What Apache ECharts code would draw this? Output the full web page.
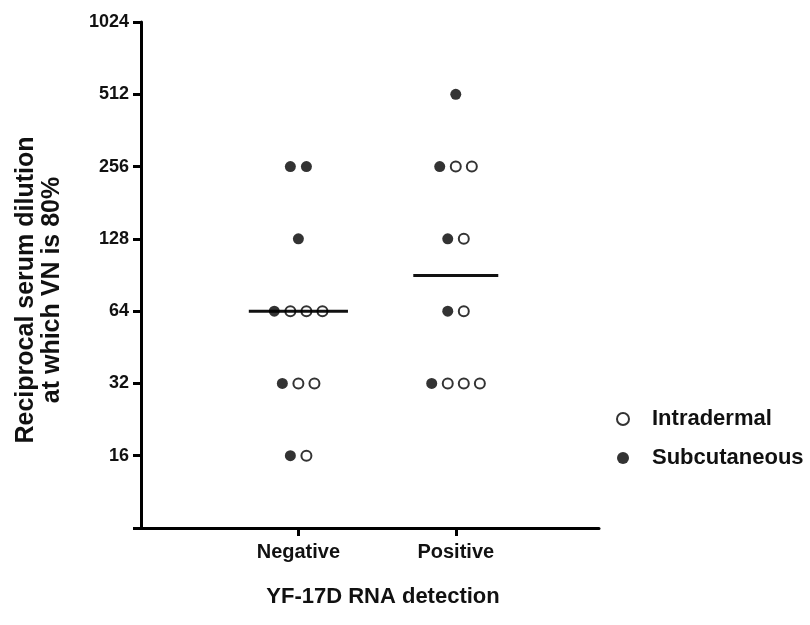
<!DOCTYPE html>
<html>
<head>
<meta charset="utf-8">
<script src="https://cdn.jsdelivr.net/npm/echarts@6/dist/echarts.min.js"></script>
<style>
  html, body { margin: 0; padding: 0; background: #fff; }
  #main { width: 810px; height: 625px; }
</style>
</head>
<body>
<div id="main"></div>
<script>
// titre (dilution) levels, top to bottom
const levels = [512, 256, 128, 64, 32, 16];
const groups = ['Negative', 'Positive'];
// number of animals at each level, per group and route
const negativeSub = [0, 2, 1, 1, 1, 1];
const negativeIntra = [0, 0, 0, 3, 2, 1];
const positiveSub = [1, 1, 1, 1, 1, 0];
const positiveIntra = [0, 2, 1, 1, 3, 0];
const medians = [64, 90];
const medianHalfWidth = [0.315, 0.27];
const yTicks = [8, 16, 32, 64, 128, 256, 512, 1024];

const counts = [[negativeSub, negativeIntra], [positiveSub, positiveIntra]];
const step = 0.102;

let subPoints = [];
let intraPoints = [];
counts.forEach(function (c, g) {
    let center = g + 1;
    levels.forEach(function (v, i) {
        let s = c[0][i], n = s + c[1][i];
        for (let j = 0; j < n; j++) {
            let x = center + (j - (n - 1) / 2) * step;
            if (j < s) subPoints.push([x, v]);
            else intraPoints.push([x, v]);
        }
    });
});

let chart = echarts.init(document.getElementById('main'));

let medianSeries = medians.map(function (m, g) {
    return {
        type: 'line',
        silent: true,
        symbol: 'none',
        z: 1,
        lineStyle: { color: '#111', width: 3 },
        data: [[g + 1 - medianHalfWidth[g], m], [g + 1 + medianHalfWidth[g], m]]
    };
});

let option = {
    animation: false,
    textStyle: { fontFamily: 'Liberation Sans, Arial, sans-serif' },
    grid: { left: 141, right: 211, top: 22, bottom: 97, containLabel: false },
    legend: {
        data: ['Intradermal', 'Subcutaneous'],
        orient: 'vertical',
        left: 611,
        top: 403,
        itemWidth: 12,
        itemHeight: 12,
        itemGap: 17,
        textStyle: { fontSize: 22, fontWeight: 'bold', color: '#111', padding: [0, 0, 0, 18] }
    },
    xAxis: {
        type: 'value',
        min: 0,
        max: 2.91,
        name: 'YF-17D RNA detection',
        nameLocation: 'middle',
        nameGap: 58,
        nameTextStyle: { fontSize: 22, fontWeight: 'bold', color: '#111', padding: [0, 0, 0, 26] },
        splitLine: { show: false },
        axisLine: { lineStyle: { color: '#000', width: 3 } },
        axisTick: { show: true, customValues: [1, 2], length: 8, lineStyle: { color: '#000', width: 3 } },
        axisLabel: {
            customValues: [1, 2],
            margin: 14,
            fontSize: 20,
            fontWeight: 'bold',
            color: '#111',
            formatter: function (v) { return groups[Math.round(v) - 1] || ''; }
        }
    },
    yAxis: {
        type: 'log',
        logBase: 2,
        min: 8,
        max: 1024,
        name: 'Reciprocal serum dilution\nat which VN is 80%',
        nameLocation: 'middle',
        nameGap: 76,
        nameTextStyle: { fontSize: 25, fontWeight: 'bold', color: '#111', lineHeight: 26, padding: [0, 30, 0, 0] },
        splitLine: { show: false },
        axisLine: { show: true, lineStyle: { color: '#000', width: 3 } },
        axisTick: { show: true, length: 8, lineStyle: { color: '#000', width: 3 } },
        axisLabel: {
            margin: 12,
            fontSize: 18,
            fontWeight: 'bold',
            color: '#111',
            formatter: function (v) { return yTicks.indexOf(v) > 0 ? String(v) : ''; }
        }
    },
    series: medianSeries.concat([
        {
            name: 'Intradermal',
            type: 'scatter',
            symbol: 'circle',
            symbolSize: 10,
            z: 3,
            itemStyle: { color: 'rgba(255,255,255,0)', borderColor: '#000', borderWidth: 2 },
            data: intraPoints
        },
        {
            name: 'Subcutaneous',
            type: 'scatter',
            symbol: 'circle',
            symbolSize: 11,
            z: 3,
            itemStyle: { color: '#000' },
            data: subPoints
        }
    ])
};

chart.setOption(option);
</script>
</body>
</html>
